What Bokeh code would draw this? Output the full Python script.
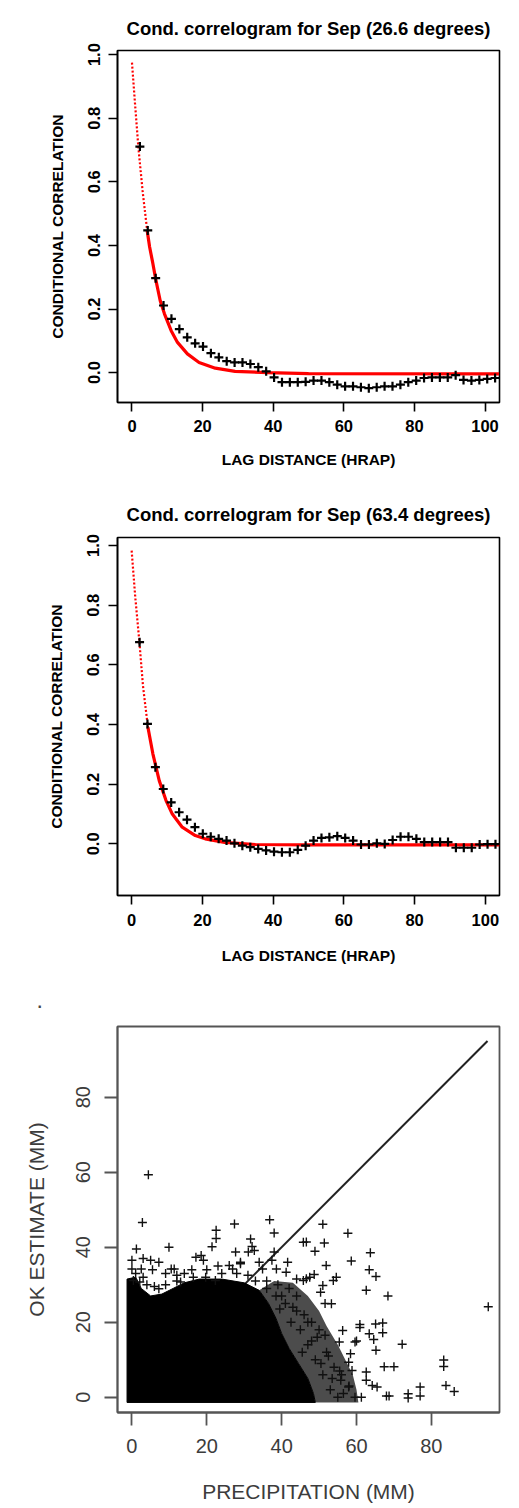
from bokeh.plotting import figure
from bokeh.layouts import column
from bokeh.models import Range1d, FixedTicker, PrintfTickFormatter
from bokeh.embed import file_html
from bokeh.resources import INLINE

# ---------------- data: panel 1 (26.6 degrees) ----------------
lag = [2.24, 4.47, 6.71, 8.94, 11.18, 13.42, 15.65, 17.89, 20.12, 22.36,
       24.60, 26.83, 29.07, 31.30, 33.54, 35.78, 38.01, 40.25, 42.49, 44.72,
       46.96, 49.19, 51.43, 53.67, 55.90, 58.14, 60.37, 62.61, 64.85, 67.08,
       69.32, 71.55, 73.79, 76.03, 78.26, 80.50, 82.73, 84.97, 87.21, 89.44,
       91.68, 93.91, 96.15, 98.39, 100.62, 102.86]
corr_26 = [0.711, 0.447, 0.297, 0.211, 0.169, 0.137, 0.111, 0.092, 0.082, 0.061,
           0.048, 0.036, 0.032, 0.032, 0.027, 0.017, 0.004, -0.015, -0.030, -0.030,
           -0.030, -0.029, -0.025, -0.025, -0.030, -0.038, -0.043, -0.043, -0.046, -0.049,
           -0.046, -0.043, -0.043, -0.038, -0.030, -0.025, -0.017, -0.015, -0.015, -0.015,
           -0.008, -0.023, -0.025, -0.023, -0.020, -0.017]
fit26_dot_x = [0.0, 0.8, 1.8, 3.0, 4.3]
fit26_dot_y = [0.975, 0.855, 0.710, 0.572, 0.447]
fit26_x = [4.3, 5.0, 5.8, 6.7, 8.0, 9.2, 11.1, 12.9, 15.7, 19.0, 23.6, 29.2, 38.5, 50.0, 104.0]
fit26_y = [0.447, 0.395, 0.350, 0.295, 0.226, 0.185, 0.132, 0.095, 0.059, 0.032, 0.014, 0.004, 0.000, -0.003, -0.004]

# ---------------- data: panel 2 (63.4 degrees) ----------------
corr_63 = [0.676, 0.402, 0.257, 0.184, 0.139, 0.106, 0.081, 0.056, 0.034, 0.024,
           0.017, 0.011, 0.002, -0.006, -0.011, -0.017, -0.022, -0.026, -0.028, -0.028,
           -0.020, -0.006, 0.011, 0.020, 0.022, 0.026, 0.020, 0.011, -0.002, -0.002,
           0.002, 0.000, 0.013, 0.024, 0.024, 0.017, 0.006, 0.006, 0.006, 0.006,
           -0.013, -0.013, -0.013, -0.002, -0.001, -0.001]
fit63_dot_x = [0.0, 1.0, 2.2, 3.2, 4.6]
fit63_dot_y = [0.983, 0.830, 0.676, 0.530, 0.391]
fit63_x = [4.6, 6.0, 7.8, 9.7, 11.5, 14.3, 18.0, 20.8, 26.3, 35.0, 50.0, 104.0]
fit63_y = [0.391, 0.302, 0.212, 0.146, 0.100, 0.056, 0.028, 0.017, 0.005, -0.002, -0.003, -0.003]

corr_ticks = [0.0, 0.2, 0.4, 0.6, 0.8, 1.0]
lag_ticks = [0, 20, 40, 60, 80, 100]

# ---------------- data: panel 3 (scatter) ----------------
mm_ticks = [0, 20, 40, 60, 80]
one_to_one = [0, 95]
# dense core of the point cloud (outline)
core_x = [-1.3, -1.3, 1.0, 2.5, 5.0, 8.0, 11.0, 14.0, 18.0, 24.0, 30.0, 34.0, 36.5, 38.5,
          40.0, 42.0, 44.5, 47.0, 48.5, 49.0]
core_y = [-1.4, 31.5, 32.0, 29.0, 27.0, 27.5, 29.0, 30.5, 31.5, 31.5, 30.5, 28.5, 25.0, 21.0,
          17.0, 13.0, 9.0, 5.0, 1.0, -1.4]
# semi-dense fringe of the cloud
fringe_x = [34.0, 38.0, 43.0, 47.0, 50.0, 52.0, 55.0, 57.0, 59.0, 60.0, 60.5, 49.0, 48.5,
            47.0, 44.5, 42.0, 40.0, 38.5, 36.5]
fringe_y = [28.5, 31.0, 30.5, 27.0, 23.0, 19.0, 14.0, 10.0, 6.0, 2.0, -1.4, -1.4, 1.0,
            5.0, 9.0, 13.0, 17.0, 21.0, 25.0]
# individually visible points
precip = [4.4, 2.8, 27.4, 36.8, 38.0, 51.0, 57.7, 22.5, 22.5, 31.7, 1.2, 9.9, 21.4, 32.1,
          32.7, 31.1, 27.7, 38.0, 45.8, 46.6, 51.4, 48.9, 63.7, 58.6, 51.9, 63.4, 65.2, 54.6,
          53.8, 48.7, 46.6, 51.0, 50.4, 62.6, 68.4, 95.2, 72.2, 83.3, 83.3, 83.9, 86.1, 77.0,
          77.0, 73.8, 73.8, 68.0, 68.7, 67.4, 70.0, 65.2, 67.0, 65.1, 60.9, 60.9, 67.0, 63.4,
          64.6, 60.0, 59.6, 56.3, 55.4, 58.4, 57.9, 58.8, 55.8, 57.9, 62.6, 62.6, 64.2, 65.5,
          61.3, 59.6, 53.3, 51.6, 51.6,
          17.1, 18.5, 19.1, 29.0, 7.2, 0.0, 0.0, 2.5, 5.5, 10.5, 11.3, 13.0, 26.0, 26.9, 29.0,
          34.0, 37.4, 41.6, 34.9, 38.6, 41.2, 45.8, 47.5, 0.4, 2.1, 7.2, 16.4, 19.7, 22.3,
          24.0, 28.0, 31.0, 33.0, 36.0, 39.0, 42.0, 44.0, 40.0, 43.0, 46.0, 48.0, 45.0, 50.0,
          47.0, 52.0, 49.0, 54.0, 51.0, 56.0, 53.0, 55.0, 44.0,
          1.0, 3.0, 4.0, 6.0, 9.0, 12.0, 14.0, 16.0, 20.0, 23.0, 3.0, 5.0, 9.0, 12.0,
          36.0, 38.5, 41.0, 44.0, 47.0, 49.5, 52.5, 55.5, 58.0, 42.5, 45.5, 50.5, 53.5, 56.5,
          39.5, 48.0]
ok_est = [59.3, 46.6, 46.2, 47.3, 43.8, 46.1, 43.7, 44.5, 42.3, 42.2, 39.5, 40.0, 40.1, 40.2,
          39.1, 38.7, 38.7, 38.7, 41.3, 41.4, 41.1, 38.9, 38.5, 36.3, 35.1, 34.0, 32.2, 32.0,
          31.1, 32.7, 31.6, 29.8, 28.0, 28.5, 27.0, 24.1, 14.1, 9.9, 8.2, 3.1, 1.5, 2.7,
          0.3, 0.9, -0.2, 0.3, 0.3, 8.1, 8.1, 12.5, 19.8, 19.5, 19.4, 18.6, 17.2, 16.9,
          15.4, 15.0, 14.7, 17.8, 14.7, 11.6, 9.3, 7.1, 4.5, 2.7, 6.7, 4.5, 3.1, 2.7,
          0.0, 0.0, 24.9, 25.0, 16.5,
          37.3, 37.8, 36.5, 36.0, 36.0, 36.5, 34.2, 34.2, 34.0, 34.2, 34.2, 30.7, 35.1, 34.2, 35.6,
          36.0, 36.5, 36.0, 34.2, 34.2, 33.3, 31.1, 32.0, 31.1, 30.7, 28.9, 32.0, 32.0, 31.1,
          33.0, 33.0, 32.5, 31.0, 31.0, 30.0, 29.0, 27.0, 27.0, 24.0, 22.0, 20.0, 18.0, 18.0,
          14.0, 12.0, 10.0, 8.0, 6.0, 6.0, 2.0, 0.0, 31.5,
          33.0, 32.0, 30.0, 29.5, 30.0, 31.0, 33.0, 34.0, 34.0, 35.0, 37.0, 36.5, 33.0, 32.5,
          29.0, 27.0, 25.0, 23.0, 20.0, 16.0, 11.0, 7.0, 3.0, 20.0, 12.0, 9.0, 5.0, 1.0,
          23.5, 15.0]

FONT = "Liberation Sans"


def style_correlogram(p, title, tick_out, lab_standoff, xlab_standoff, ylab_standoff, title_standoff):
    p.title.text = title
    p.title.align = "center"
    p.title.text_font = FONT
    p.title.text_font_style = "bold"
    p.title.text_font_size = "18.5px"
    p.title.text_color = "black"
    p.title.standoff = title_standoff
    p.xgrid.visible = False
    p.ygrid.visible = False
    p.outline_line_color = "black"
    p.outline_line_width = 1.6
    p.background_fill_color = "white"
    p.border_fill_color = "white"
    p.xaxis.ticker = FixedTicker(ticks=lag_ticks)
    p.yaxis.ticker = FixedTicker(ticks=corr_ticks)
    p.yaxis.formatter = PrintfTickFormatter(format="%.1f")
    p.xaxis.axis_label = "LAG DISTANCE (HRAP)"
    p.yaxis.axis_label = "CONDITIONAL CORRELATION"
    p.yaxis.major_label_orientation = "vertical"
    for ax, st in ((p.xaxis, xlab_standoff), (p.yaxis, ylab_standoff)):
        ax.axis_line_color = "black"
        ax.axis_line_width = 1.6
        ax.major_tick_line_color = "black"
        ax.major_tick_line_width = 1.6
        ax.major_tick_out = tick_out
        ax.major_tick_in = 0
        ax.minor_tick_line_color = None
        ax.major_label_text_font = FONT
        ax.major_label_text_font_style = "bold"
        ax.major_label_text_font_size = "16.5px"
        ax.major_label_text_color = "black"
        ax.major_label_standoff = lab_standoff
        ax.axis_label_text_font = FONT
        ax.axis_label_text_font_style = "bold"
        ax.axis_label_text_font_size = "15.5px"
        ax.axis_label_text_color = "black"
        ax.axis_label_standoff = st


# ---------------- figure 1 ----------------
p1 = figure(width=519, height=480, x_range=Range1d(-4.1, 104.1), y_range=Range1d(-0.094, 1.013),
            output_backend="svg", toolbar_location=None,
            min_border_left=112, min_border_right=20, min_border_top=50, min_border_bottom=78)
style_correlogram(p1, "Cond. correlogram for Sep (26.6 degrees)", 9, 8, 16, 20, 24)
p1.line(fit26_dot_x, fit26_dot_y, line_color="red", line_width=2.2, line_dash="2 2")
p1.line(fit26_x, fit26_y, line_color="red", line_width=3.2)
p1.scatter(lag, corr_26, marker="cross", size=9, line_width=2.2, line_color="black")

# ---------------- figure 2 ----------------
p2 = figure(width=519, height=495, x_range=Range1d(-4.0, 104.0), y_range=Range1d(-0.173, 1.027),
            output_backend="svg", toolbar_location=None,
            min_border_left=117, min_border_right=12, min_border_top=57, min_border_bottom=80)
style_correlogram(p2, "Cond. correlogram for Sep (63.4 degrees)", 9, 9, 18, 20, 25)
p2.line(fit63_dot_x, fit63_dot_y, line_color="red", line_width=2.2, line_dash="2 2")
p2.line(fit63_x, fit63_y, line_color="red", line_width=3.2)
p2.scatter(lag, corr_63, marker="cross", size=9, line_width=2.2, line_color="black")

# ---------------- figure 3 ----------------
GREY = "#3c3c3c"
p3 = figure(width=519, height=533, x_range=Range1d(-3.85, 98.2), y_range=Range1d(-4.08, 98.85),
            output_backend="svg", toolbar_location=None,
            min_border_left=113, min_border_right=1, min_border_top=51, min_border_bottom=96)
p3.title.text = "."
p3.title.align = "left"
p3.title.offset = -80
p3.title.text_font = FONT
p3.title.text_font_style = "bold"
p3.title.text_font_size = "16px"
p3.title.standoff = 37
p3.xgrid.visible = False
p3.ygrid.visible = False
p3.outline_line_color = "#555555"
p3.outline_line_width = 1.8
p3.xaxis.ticker = FixedTicker(ticks=mm_ticks)
p3.yaxis.ticker = FixedTicker(ticks=mm_ticks)
p3.xaxis.axis_label = "PRECIPITATION (MM)"
p3.yaxis.axis_label = "OK ESTIMATE (MM)"
p3.yaxis.major_label_orientation = "vertical"
for ax, lst, ast in ((p3.xaxis, 13, 24), (p3.yaxis, 14, 26)):
    ax.axis_line_color = "#555555"
    ax.axis_line_width = 1.8
    ax.major_tick_line_color = "#555555"
    ax.major_tick_line_width = 1.8
    ax.major_tick_out = 13
    ax.major_tick_in = 0
    ax.minor_tick_line_color = None
    ax.major_label_text_font = FONT
    ax.major_label_text_font_size = "20px"
    ax.major_label_text_color = GREY
    ax.major_label_standoff = lst
    ax.axis_label_text_font = FONT
    ax.axis_label_text_font_style = "normal"
    ax.axis_label_text_font_size = "21px"
    ax.axis_label_text_color = GREY
    ax.axis_label_standoff = ast

p3.line(one_to_one, one_to_one, line_color="#222222", line_width=2)
p3.patch(fringe_x, fringe_y, fill_color="black", fill_alpha=0.7, line_color=None)
p3.patch(core_x, core_y, fill_color="black", line_color="black", line_width=1)
p3.scatter(precip, ok_est, marker="cross", size=9, line_width=1.4, line_color="#111111")

layout = column(p1, p2, p3, spacing=0)
open("out.html", "w").write(file_html(layout, INLINE))
